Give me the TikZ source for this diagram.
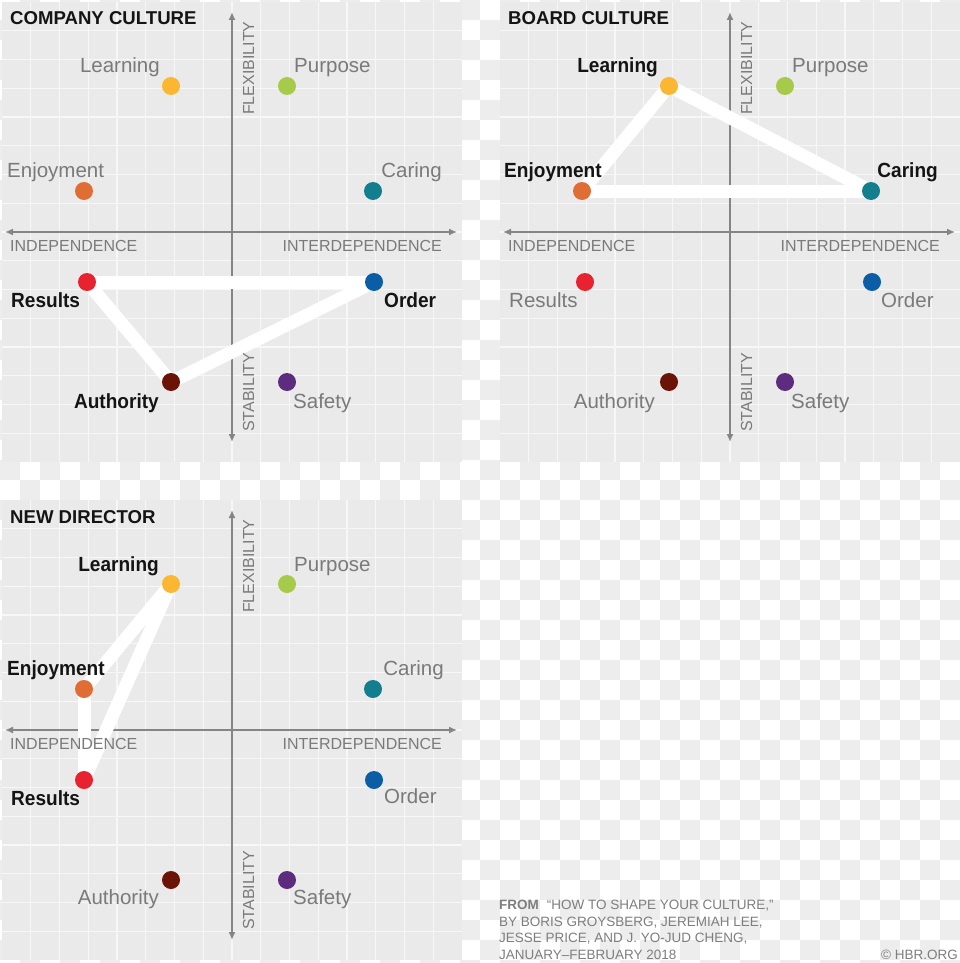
\documentclass[tikz,border=0pt]{standalone}
\usepackage{fontspec}
\usepackage{graphicx}
\setmainfont{Liberation Sans}
\usetikzlibrary{arrows.meta}
\definecolor{panelbg}{HTML}{EAEAEA}
\definecolor{checkgray}{HTML}{EDEDED}
\definecolor{gridc}{HTML}{F7F7F7}
\definecolor{axisc}{HTML}{858585}
\definecolor{labgray}{HTML}{7A7A7A}
\definecolor{labblack}{HTML}{141414}
\definecolor{srcgray}{HTML}{7E7E7E}
\definecolor{cLearning}{HTML}{FBB731}
\definecolor{cPurpose}{HTML}{A6CA4A}
\definecolor{cEnjoy}{HTML}{E06D33}
\definecolor{cCaring}{HTML}{137E8D}
\definecolor{cResults}{HTML}{E8232F}
\definecolor{cOrder}{HTML}{0B5EA6}
\definecolor{cAuth}{HTML}{6A1306}
\definecolor{cSafety}{HTML}{5E2C7E}
\pgfdeclarelayer{bglayer}
\pgfdeclarelayer{fglayer}
\pgfsetlayers{bglayer,main,fglayer}
\newcommand\hlt[1]{\scalebox{0.93}[1]{#1}}
\tikzset{
  dot/.style={circle, inner sep=0pt, minimum size=18pt, draw=none},
  lbl/.style={inner sep=0pt, font=\fontsize{20.5}{24}\selectfont, text=labgray},
  hl/.style={inner sep=0pt, font=\fontsize{20.5}{24}\selectfont\bfseries, text=labblack},
  axlbl/.style={inner sep=0pt, font=\fontsize{16}{19}\selectfont, text=labgray},
  ttl/.style={inner sep=0pt, font=\fontsize{18.6}{22}\selectfont\bfseries, text=labblack},
  src/.style={inner sep=0pt, font=\fontsize{13.5}{16}\selectfont, text=srcgray},
  link/.style={white, line width=13pt},
  axisline/.style={axisc, line width=1.5pt, {Latex[length=8pt,width=7pt]}-{Latex[length=8pt,width=7pt]}},
  gridline/.style={gridc, line width=1.2pt},
}
\newcommand\drawpanel[3]{% ox, oy, prefix
  \begin{scope}[shift={(#1,#2)}]
    \fill[panelbg] (0,0) rectangle (460,460);
    \foreach \k in {1,...,15} {
      \draw[gridline] ({\k*28.75},0) -- ({\k*28.75},460);
      \draw[gridline] (0,{\k*28.75}) -- (460,{\k*28.75});
    }
    \coordinate (#3-top) at (230,10);
    \coordinate (#3-bot) at (230,440);
    \coordinate (#3-left) at (3,230);
    \coordinate (#3-right) at (455,230);
    \draw[axisline] (#3-bot) -- (#3-top);
    \draw[axisline] (#3-left) -- (#3-right);
  \end{scope}}
\newcommand\drawaxislabels[4]{% ox, oy, prefix, title
  \begin{scope}[shift={(#1,#2)}]
    \node[ttl, anchor=base west] (#3-title) at (8,23) {#4};
    \node[axlbl, anchor=base west] (#3-indep) at (8,249) {INDEPENDENCE};
    \node[axlbl, anchor=base east] (#3-inter) at (440,249) {INTERDEPENDENCE};
    \node[axlbl, anchor=base west, rotate=90] (#3-flex) at (252,113) {FLEXIBILITY};
    \node[axlbl, anchor=base west, rotate=90] (#3-stab) at (252,430) {STABILITY};
  \end{scope}}
\newcommand\drawdots[4]{% cx, cy, prefix, results x
  \begin{scope}[shift={(#1,#2)}]
    \node[dot, fill=cLearning] (#3-learning) at (-61,-146) {};
    \node[dot, fill=cPurpose] (#3-purpose) at (55,-146) {};
    \node[dot, fill=cEnjoy] (#3-enjoyment) at (-148,-41) {};
    \node[dot, fill=cCaring] (#3-caring) at (141,-41) {};
    \node[dot, fill=cResults] (#3-results) at (#4,50) {};
    \node[dot, fill=cOrder] (#3-order) at (142,50) {};
    \node[dot, fill=cAuth] (#3-authority) at (-61,150) {};
    \node[dot, fill=cSafety] (#3-safety) at (55,150) {};
  \end{scope}}
\begin{document}
\begin{tikzpicture}[x=1pt,y=-1pt]
\useasboundingbox (0,0) rectangle (960,963);
\begin{pgfonlayer}{bglayer}
  \clip (0,0) rectangle (960,963);
  \fill[white] (0,0) rectangle (960,963);
  \foreach \i in {0,...,47} {
    \foreach \j in {0,...,48} {
      \pgfmathtruncatemacro\cpar{mod(\i+\j,2)}
      \ifnum\cpar=1 \fill[checkgray] ({\i*20},{\j*20}) rectangle ++(20,20); \fi
    }
  }
  \drawpanel{2}{2}{tl}
  \drawpanel{500}{2}{tr}
  \drawpanel{2}{500}{bl}
\end{pgfonlayer}

\begin{pgfonlayer}{fglayer}
  \drawaxislabels{2}{2}{tl}{COMPANY CULTURE}
  \drawaxislabels{500}{2}{tr}{BOARD CULTURE}
  \drawaxislabels{2}{500}{bl}{NEW DIRECTOR}
  \drawdots{232}{232}{tl}{-145}
  \drawdots{730}{232}{tr}{-145}
  \drawdots{232}{730}{bl}{-148}

  % company culture labels
  \begin{scope}[shift={(232,232)}]
    \node[lbl, anchor=base east] (tl-llearning) at (-72,-159) {Learning};
    \node[lbl, anchor=base west] (tl-lpurpose) at (62,-159) {Purpose};
    \node[lbl, anchor=base west] (tl-lenjoyment) at (-225,-55) {Enjoyment};
    \node[lbl, anchor=base east] (tl-lcaring) at (210,-55) {Caring};
    \node[hl, anchor=base west] (tl-lresults) at (-221,75) {\hlt{Results}};
    \node[hl, anchor=base west] (tl-lorder) at (152,75) {\hlt{Order}};
    \node[hl, anchor=base east] (tl-lauthority) at (-73,176) {\hlt{Authority}};
    \node[lbl, anchor=base west] (tl-lsafety) at (61,176) {Safety};
  \end{scope}
  % board culture labels
  \begin{scope}[shift={(730,232)}]
    \node[hl, anchor=base east] (tr-llearning) at (-72,-159) {\hlt{Learning}};
    \node[lbl, anchor=base west] (tr-lpurpose) at (62,-159) {Purpose};
    \node[hl, anchor=base west] (tr-lenjoyment) at (-226,-55) {\hlt{Enjoyment}};
    \node[hl, anchor=base east] (tr-lcaring) at (208,-55) {\hlt{Caring}};
    \node[lbl, anchor=base west] (tr-lresults) at (-221,75) {Results};
    \node[lbl, anchor=base west] (tr-lorder) at (151,75) {Order};
    \node[lbl, anchor=base east] (tr-lauthority) at (-75,176) {Authority};
    \node[lbl, anchor=base west] (tr-lsafety) at (61,176) {Safety};
  \end{scope}
  % new director labels
  \begin{scope}[shift={(232,730)}]
    \node[hl, anchor=base east] (bl-llearning) at (-73,-159) {\hlt{Learning}};
    \node[lbl, anchor=base west] (bl-lpurpose) at (62,-159) {Purpose};
    \node[hl, anchor=base west] (bl-lenjoyment) at (-225,-55) {\hlt{Enjoyment}};
    \node[lbl, anchor=base east] (bl-lcaring) at (212,-55) {Caring};
    \node[hl, anchor=base west] (bl-lresults) at (-221,75) {\hlt{Results}};
    \node[lbl, anchor=base west] (bl-lorder) at (152,73) {Order};
    \node[lbl, anchor=base east] (bl-lauthority) at (-73,174) {Authority};
    \node[lbl, anchor=base west] (bl-lsafety) at (61,174) {Safety};
  \end{scope}

  % source
  \node[src, anchor=base west] (src1) at (499,909.3) {\textbf{FROM}\hspace{8pt}“HOW TO SHAPE YOUR CULTURE,”};
  \node[src, anchor=base west] (src2) at (499,926) {BY BORIS GROYSBERG, JEREMIAH LEE,};
  \node[src, anchor=base west] (src3) at (499,942.7) {JESSE PRICE, AND J. YO-JUD CHENG,};
  \node[src, anchor=base west] (src4) at (499,959) {JANUARY–FEBRUARY 2018};
  \node[src, anchor=base east] (src5) at (958,959) {© HBR.ORG};
\end{pgfonlayer}

% connectors
\draw[link] (tl-results.center) -- (tl-order.center);
\draw[link] (tl-order.center) -- (tl-authority.center);
\draw[link] (tl-authority.center) -- (tl-results.center);
\draw[link] (tr-learning.center) -- (tr-caring.center);
\draw[link] (tr-caring.center) -- (tr-enjoyment.center);
\draw[link] (tr-enjoyment.center) -- (tr-learning.center);
\draw[link] (bl-learning.center) -- (bl-enjoyment.center);
\draw[link] (bl-enjoyment.center) -- (bl-results.center);
\draw[link] (bl-results.center) -- (bl-learning.center);
\end{tikzpicture}
\end{document}
